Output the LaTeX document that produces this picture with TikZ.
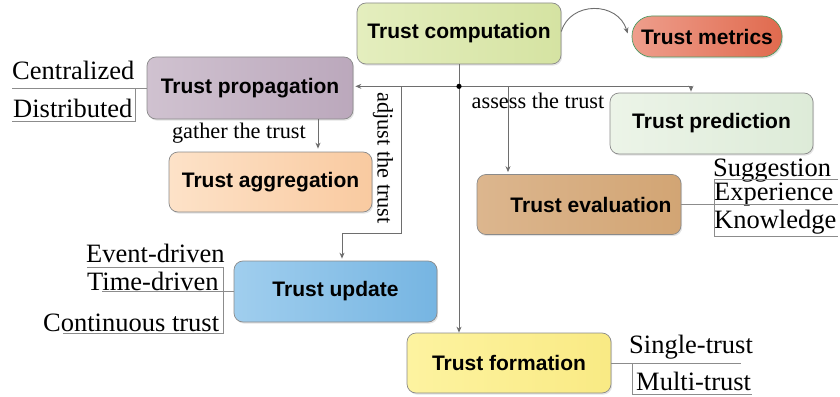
\documentclass[tikz,border=0pt]{standalone}
\usepackage{fontspec}
\setmainfont{Liberation Serif}
\setsansfont{Liberation Sans}
\usetikzlibrary{arrows.meta,shadows,calc}
\definecolor{boxborder}{HTML}{8A8A8A}
\definecolor{conngray}{HTML}{6E6E6E}
\definecolor{ulgray}{HTML}{8C8C8C}
\definecolor{compL}{HTML}{E4EEBE}
\definecolor{compR}{HTML}{D5E3A2}
\definecolor{metL}{HTML}{EE9E8C}
\definecolor{metR}{HTML}{E06A4E}
\definecolor{metB}{HTML}{4E9A62}
\definecolor{propL}{HTML}{D0C2D0}
\definecolor{propR}{HTML}{BBA8BC}
\definecolor{aggL}{HTML}{FDE2C8}
\definecolor{aggR}{HTML}{F9CAA0}
\definecolor{predL}{HTML}{ECF4E8}
\definecolor{predR}{HTML}{DDEBD8}
\definecolor{evalL}{HTML}{DCB68E}
\definecolor{evalR}{HTML}{D2A574}
\definecolor{updL}{HTML}{A0CEEE}
\definecolor{updR}{HTML}{76B5E2}
\definecolor{formL}{HTML}{FDF3A0}
\definecolor{formR}{HTML}{F9EA84}
\begin{document}
\begin{tikzpicture}[x=1pt,y=-1pt,
  box/.style={draw=boxborder, line width=0.7pt, rounded corners=9pt, inner sep=0pt,
    minimum width=203pt, minimum height=61pt,
    font=\fontsize{21}{24}\selectfont\sffamily\bfseries,
    drop shadow={shadow xshift=1.2pt,shadow yshift=-1.6pt,opacity=0.22}},
  conn/.style={draw=conngray, line width=0.9pt},
  arr/.style={conn, -{Stealth[length=6pt,width=5pt]}},
  ul/.style={draw=ulgray, line width=0.8pt},
  lbl/.style={font=\fontsize{26.5}{30}\selectfont, inner sep=0pt, anchor=base west},
  clbl/.style={font=\fontsize{22.3}{26}\selectfont, inner sep=0pt},
]
\useasboundingbox (0,0) rectangle (840,396);

% main boxes
\node[box, left color=compL, right color=compR, minimum width=204pt] (comp) at (459,33.5) {Trust computation};
\node[box, left color=metL, right color=metR, draw=metB, rounded corners=20pt, minimum width=150pt, minimum height=41pt] (met) at (707,36.5) {Trust metrics};
\node[box, left color=propL, right color=propR, minimum width=206pt, minimum height=62pt] (prop) at (250,88) {Trust propagation};
\node[box, left color=aggL, right color=aggR, minimum height=60pt] (agg) at (270.5,182) {Trust aggregation};
\node[box, left color=predL, right color=predR] (pred) at (711.5,123.5) {Trust prediction};
\node[box, left color=evalL, right color=evalR, minimum width=204pt, minimum height=60pt] (eval) at (579,204.5) {\hspace*{24pt}Trust evaluation};
\node[box, left color=updL, right color=updR] (upd) at (335.5,291.5) {Trust update};
\node[box, left color=formL, right color=formR, minimum width=204pt, minimum height=60pt] (form) at (509,363) {Trust formation};

% curved arrow to metrics
\draw[arr] (comp.east) ++(0,-2) coordinate (cs) (cs) .. controls (570,1) and (618,1) .. ($(met.west)+(-4,-3)$);

% trunk
\coordinate (J) at ($(comp.south)+(0,22)$);
\coordinate (xp) at (691,0);
\coordinate (xa) at (401,0);
\coordinate (xe) at (508,0);
\coordinate (xu) at (342,0);
\coordinate (xg) at (318,0);
\draw[arr] (comp.south) -- (comp.south |- form.north);
\draw[arr] (J) -- ($(J -| prop.east)+(2,0)$);
\draw[arr] (J) -| ($(xp |- pred.north)+(0,-1)$);
\draw[arr] (J -| xe) -- ($(xe |- eval.north)+(0,-2)$);
\draw[arr] (J -| xa) -- (401,233) -| ($(xu |- upd.north)+(0,-2)$);
\draw[arr] (xg |- prop.south) -- ($(xg |- agg.north)+(0,-3)$);
\fill[black] (J) circle (2.6pt);

% connector labels
\node[clbl, anchor=east] (gather) at (306,133) {gather the trust};
\node[clbl, rotate=-90] (adjust) at (383,158) {adjust the trust};
\node[clbl] (assess) at (538,101) {assess the trust};

% propagation sub-topics
\node[lbl] (cen) at (12,79) {Centralized};
\node[lbl] (dis) at (13,117) {Distributed};
\draw[ul] (prop.west) -- (12,88);
\draw[ul] (135,88) -- (135,121) -- (12,121);

% evaluation sub-topics
\node[lbl] (sug) at (713,176) {Suggestion};
\node[lbl] (exp) at (714,200) {Experience};
\node[lbl] (kno) at (714,228) {Knowledge};
\draw[ul] (eval.east) -- (838,204.5);
\draw[ul] (838,179) -- (714,179) -- (714,236) -- (838,236);

% update sub-topics
\node[lbl] (evd) at (86,262) {Event-driven};
\node[lbl] (tid) at (87,290) {Time-driven};
\node[lbl] (cont) at (43,331) {Continuous trust};
\draw[ul] (upd.west) -- (102,291.5);
\draw[ul] (87,267) -- (223,267) -- (223,333) -- (63,333);

% formation sub-topics
\node[lbl] (sin) at (629,353) {Single-trust};
\node[lbl] (mul) at (636,390) {Multi-trust};
\draw[ul] (form.east) -- (741,363);
\draw[ul] (632,363) -- (632,394) -- (752,394);
\end{tikzpicture}
\end{document}
